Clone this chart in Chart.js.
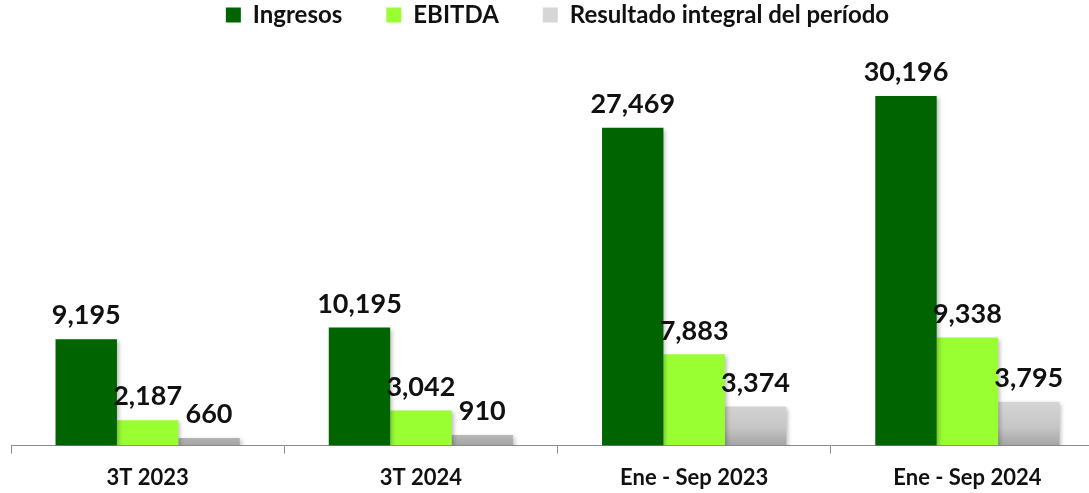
<!DOCTYPE html>
<html>
<head>
<meta charset="utf-8">
<script src="https://cdn.jsdelivr.net/npm/chart.js@4"></script>
<style>
  html, body { margin: 0; padding: 0; background: #fff; overflow: hidden; }
  #wrap { width: 1110px; height: 493px; position: relative; }
</style>
</head>
<body>
<div id="wrap"><canvas id="grafico"></canvas></div>
<script>
// Datos del gráfico
const categorias = ['3T 2023', '3T 2024', 'Ene - Sep 2023', 'Ene - Sep 2024'];
const ingresos = [9195, 10195, 27469, 30196];
const ebitda = [2187, 3042, 7883, 9338];
const resultadoIntegral = [660, 910, 3374, 3795];

const fuente = 'Lato, "Open Sans", sans-serif';

// Degradado gris para el resultado integral
function grisDegradado(context) {
    const area = context.chart.chartArea;
    if (!area) return '#c8c8c8';
    const g = context.chart.ctx.createLinearGradient(0, area.bottom - 45, 0, area.bottom);
    g.addColorStop(0, '#d6d6d6');
    g.addColorStop(0.6, '#c6c6c6');
    g.addColorStop(1, '#a4a4a4');
    return g;
}

// Sombra ligera de las barras
const sombraBarras = {
    id: 'sombraBarras',
    beforeDatasetDraw(chart) {
        const ctx = chart.ctx;
        ctx.save();
        ctx.shadowColor = 'rgba(0,0,0,0.25)';
        ctx.shadowBlur = 4;
        ctx.shadowOffsetX = 2;
        ctx.shadowOffsetY = 2;
    },
    afterDatasetDraw(chart) {
        chart.ctx.restore();
    }
};

// Etiquetas de valor sobre cada barra
const etiquetasValor = {
    id: 'etiquetasValor',
    afterDatasetsDraw(chart) {
        const ctx = chart.ctx;
        ctx.save();
        ctx.font = 'bold 27px ' + fuente;
        ctx.fillStyle = '#111';
        ctx.textAlign = 'center';
        ctx.textBaseline = 'bottom';
        chart.data.datasets.forEach((ds, i) => {
            chart.getDatasetMeta(i).data.forEach((bar, j) => {
                ctx.fillText(ds.data[j].toLocaleString('en-US'), bar.x, bar.y - 10);
            });
        });
        ctx.restore();
    }
};

const ctx = document.getElementById('grafico').getContext('2d');
const grafico = new Chart(ctx, {
    type: 'bar',
    data: {
        labels: categorias,
        datasets: [
            { label: 'Ingresos', data: ingresos, backgroundColor: '#006400' },
            { label: 'EBITDA', data: ebitda, backgroundColor: '#99ff33' },
            { label: 'Resultado integral del período', data: resultadoIntegral, backgroundColor: grisDegradado }
        ]
    },
    options: {
        responsive: true,
        maintainAspectRatio: false,
        animation: false,
        layout: { padding: { left: 11, right: 6, top: -41, bottom: -9 } },
        datasets: { bar: { categoryPercentage: 0.674, barPercentage: 1, borderWidth: 0 } },
        scales: {
            x: {
                grid: {
                    display: true,
                    offset: true,
                    drawOnChartArea: false,
                    tickLength: 8,
                    color: '#8c8c8c'
                },
                border: { display: true, color: '#8c8c8c', width: 1 },
                ticks: {
                    color: '#111',
                    padding: 11,
                    font: { family: fuente, size: 22, weight: 'bold' }
                }
            },
            y: {
                display: false,
                min: 0,
                max: 35300
            }
        },
        plugins: {
            legend: {
                position: 'top',
                labels: {
                    color: '#111',
                    boxWidth: 15,
                    boxHeight: 15,
                    padding: 44,
                    font: { family: fuente, size: 24, weight: 'bold' }
                }
            },
            tooltip: { enabled: false }
        }
    },
    plugins: [sombraBarras, etiquetasValor]
});
</script>
</body>
</html>
